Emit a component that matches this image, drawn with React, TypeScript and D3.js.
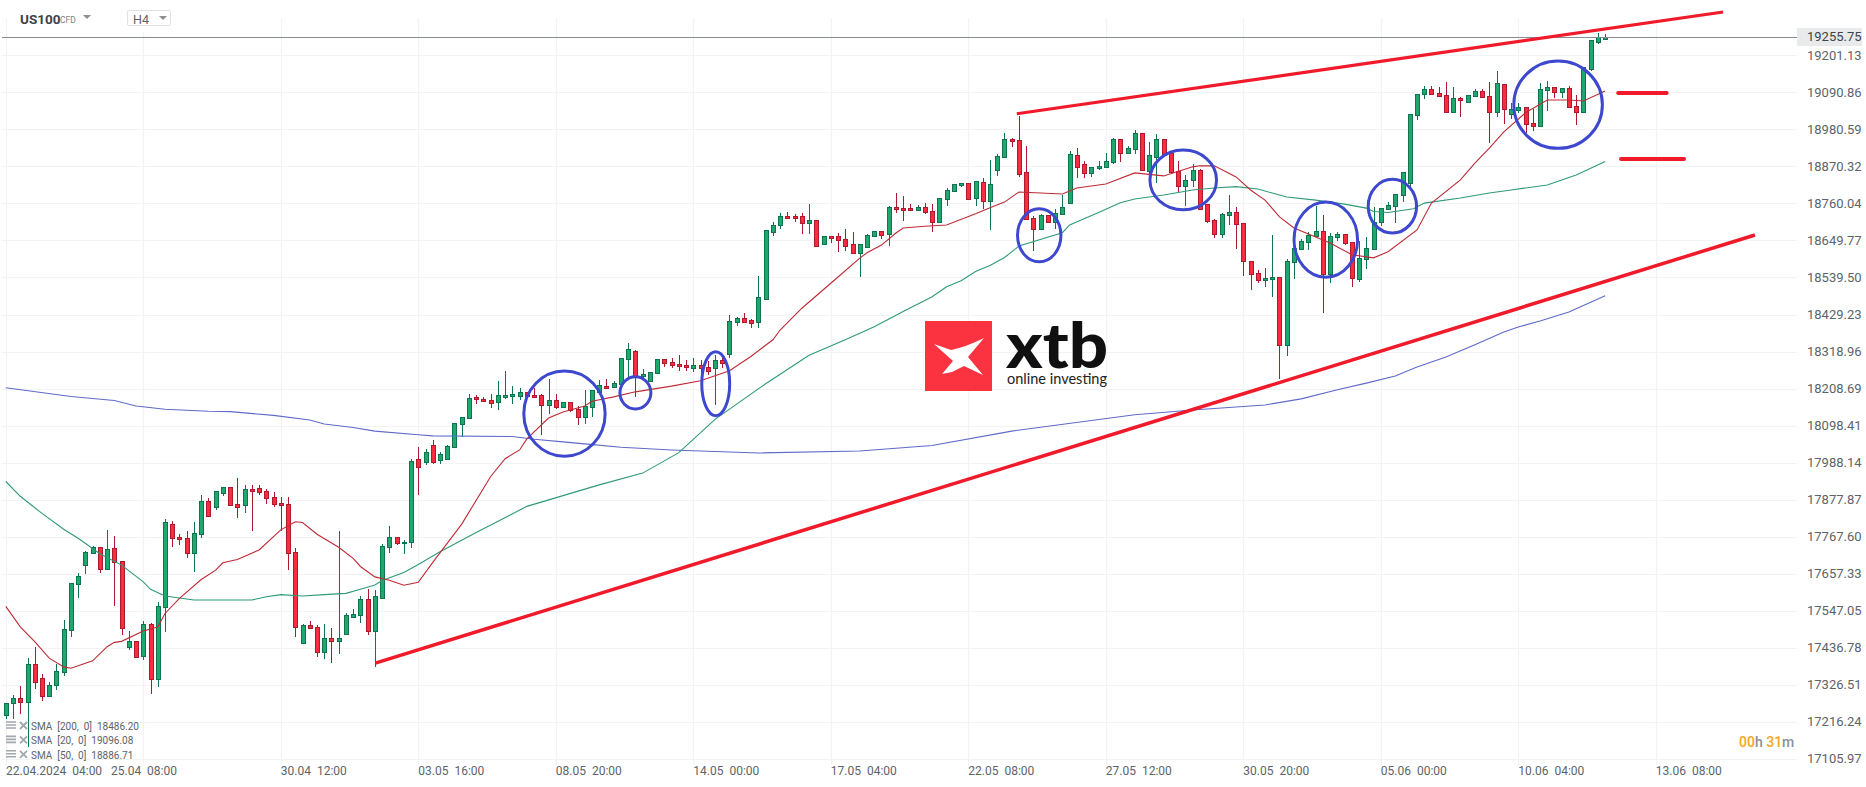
import React from "react";
import * as d3 from "d3";

const W = 1866;
const H = 787;

const priceTicks = [19201.13, 19090.86, 18980.59, 18870.32, 18760.04, 18649.77, 18539.5, 18429.23, 18318.96, 18208.69, 18098.41, 17988.14, 17877.87, 17767.6, 17657.33, 17547.05, 17436.78, 17326.51, 17216.24, 17105.97];
const lastPrice = 19255.75;

const timeTicks = ["22.04.2024  04:00", "25.04  08:00", "30.04  12:00", "03.05  16:00", "08.05  20:00", "14.05  00:00", "17.05  04:00", "22.05  08:00", "27.05  12:00", "30.05  20:00", "05.06  00:00", "10.06  04:00", "13.06  08:00"];
const barsPerTick = 19;

// candles, H4
const opens = [
  17238, 17271, 17286, 17274, 17390, 17348, 17294, 17326, 17365, 17490,
  17627, 17684, 17718, 17736, 17672, 17733, 17694, 17440, 17456, 17413,
  17509, 17344, 17559, 17804, 17768, 17765, 17719, 17777, 17873, 17857,
  17899, 17917, 17864, 17861, 17911, 17914, 17905, 17887, 17869, 17866,
  17723, 17452, 17506, 17500, 17425, 17467, 17458, 17478, 17530, 17533,
  17581, 17487, 17584, 17736, 17766, 17748, 17751, 18000, 17990, 18042,
  17995, 18000, 18035, 18102, 18122, 18185, 18179, 18176, 18168, 18185,
  18188, 18188, 18200, 18191, 18191, 18161, 18176, 18153, 18170, 18147,
  18123, 18153, 18200, 18215, 18212, 18221, 18296, 18320, 18245, 18230,
  18254, 18296, 18287, 18282, 18278, 18270, 18278, 18272, 18270, 18295,
  18312, 18406, 18418, 18412, 18408, 18476, 18676, 18695, 18722, 18722,
  18722, 18703, 18710, 18638, 18662, 18662, 18653, 18638, 18611, 18629,
  18662, 18677, 18668, 18749, 18746, 18746, 18740, 18749, 18737, 18704,
  18772, 18796, 18814, 18820, 18775, 18823, 18768, 18859, 18897, 18951,
  18948, 18853, 18716, 18685, 18725, 18706, 18728, 18760, 18903, 18877,
  18850, 18865, 18868, 18883, 18951, 18909, 18921, 18969, 18858, 18897,
  18951, 18909, 18858, 18813, 18829, 18860, 18757, 18712, 18670, 18727,
  18736, 18703, 18590, 18554, 18533, 18536, 18542, 18337, 18587, 18623,
  18644, 18662, 18677, 18551, 18659, 18668, 18644, 18536, 18596, 18623,
  18706, 18742, 18751, 18784, 18822, 19022, 19085, 19100, 19088, 19082,
  19031, 19073, 19061, 19079, 19094, 19079, 19031, 19115, 19025, 19037,
  19046, 19001, 18992, 19099, 19108, 19093, 19105, 19049, 19031, 19159,
  19240, 19251,
];
const closes = [
  17273, 17286, 17274, 17390, 17335, 17294, 17327, 17369, 17494, 17631,
  17652, 17721, 17736, 17672, 17730, 17691, 17496, 17456, 17410, 17509,
  17344, 17560, 17810, 17764, 17761, 17719, 17780, 17873, 17830, 17903,
  17917, 17861, 17857, 17911, 17904, 17901, 17883, 17865, 17863, 17719,
  17499, 17506, 17496, 17425, 17467, 17458, 17467, 17533, 17536, 17581,
  17487, 17590, 17739, 17766, 17748, 17753, 17993, 17975, 18020, 17990,
  18015, 18039, 18105, 18125, 18182, 18177, 18173, 18167, 18191, 18191,
  18194, 18200, 18188, 18185, 18161, 18176, 18155, 18170, 18144, 18123,
  18156, 18203, 18218, 18209, 18224, 18299, 18326, 18246, 18251, 18257,
  18296, 18284, 18280, 18276, 18272, 18278, 18270, 18262, 18295, 18285,
  18409, 18418, 18408, 18405, 18480, 18680, 18695, 18722, 18716, 18716,
  18703, 18710, 18634, 18662, 18656, 18650, 18634, 18611, 18638, 18665,
  18677, 18665, 18749, 18743, 18740, 18740, 18749, 18734, 18704, 18775,
  18799, 18817, 18820, 18774, 18826, 18768, 18817, 18901, 18951, 18945,
  18847, 18713, 18683, 18725, 18706, 18731, 18749, 18906, 18870, 18850,
  18868, 18871, 18886, 18951, 18909, 18924, 18969, 18861, 18903, 18951,
  18903, 18855, 18812, 18831, 18859, 18742, 18708, 18670, 18730, 18736,
  18700, 18590, 18551, 18533, 18539, 18542, 18337, 18590, 18626, 18647,
  18665, 18677, 18551, 18662, 18668, 18641, 18539, 18599, 18626, 18704,
  18745, 18754, 18787, 18855, 19025, 19087, 19100, 19085, 19079, 19031,
  19073, 19067, 19082, 19094, 19076, 19031, 19118, 19040, 19040, 19046,
  18998, 18992, 19102, 19108, 19093, 19105, 19046, 19031, 19165, 19248,
  19257, 19257,
];
const highs = [
  17273, 17295, 17323, 17405, 17439, 17360, 17334, 17390, 17519, 17631,
  17659, 17725, 17739, 17736, 17787, 17769, 17694, 17486, 17456, 17516,
  17512, 17573, 17820, 17814, 17777, 17786, 17810, 17893, 17882, 17905,
  17917, 17917, 17941, 17923, 17923, 17923, 17911, 17902, 17887, 17887,
  17735, 17509, 17518, 17506, 17509, 17497, 17784, 17539, 17551, 17590,
  17611, 17608, 17745, 17799, 17766, 17759, 18000, 18036, 18030, 18055,
  18020, 18042, 18105, 18125, 18194, 18191, 18185, 18192, 18231, 18261,
  18216, 18209, 18200, 18209, 18194, 18236, 18194, 18170, 18170, 18156,
  18203, 18203, 18234, 18237, 18230, 18299, 18344, 18323, 18266, 18257,
  18296, 18296, 18300, 18310, 18295, 18300, 18295, 18290, 18310, 18305,
  18427, 18421, 18433, 18415, 18543, 18680, 18704, 18731, 18734, 18728,
  18731, 18757, 18710, 18662, 18662, 18671, 18683, 18674, 18638, 18668,
  18677, 18677, 18752, 18791, 18782, 18758, 18755, 18761, 18758, 18775,
  18805, 18817, 18820, 18820, 18826, 18835, 18890, 18906, 18970, 18954,
  19019, 18930, 18722, 18728, 18725, 18743, 18785, 18915, 18924, 18886,
  18868, 18886, 18910, 18954, 18951, 18930, 18978, 18969, 18942, 18966,
  18951, 18909, 18885, 18846, 18876, 18863, 18757, 18715, 18733, 18784,
  18748, 18703, 18590, 18563, 18569, 18665, 18542, 18596, 18626, 18653,
  18674, 18752, 18725, 18671, 18674, 18668, 18644, 18647, 18659, 18748,
  18745, 18763, 18787, 18855, 19025, 19087, 19109, 19109, 19106, 19121,
  19106, 19076, 19082, 19100, 19100, 19121, 19154, 19115, 19058, 19058,
  19046, 19040, 19120, 19126, 19108, 19105, 19111, 19084, 19165, 19248,
  19269, 19266,
];
const lows = [
  17226, 17226, 17241, 17142, 17314, 17279, 17294, 17310, 17353, 17469,
  17585, 17656, 17718, 17659, 17669, 17561, 17475, 17430, 17408, 17400,
  17300, 17320, 17484, 17738, 17743, 17703, 17662, 17763, 17830, 17847,
  17889, 17861, 17824, 17839, 17785, 17892, 17866, 17856, 17786, 17669,
  17469, 17449, 17492, 17410, 17404, 17392, 17419, 17478, 17530, 17511,
  17475, 17380, 17581, 17718, 17742, 17715, 17735, 17892, 17980, 17985,
  17985, 17995, 18033, 18065, 18119, 18163, 18171, 18152, 18145, 18178,
  18164, 18175, 18188, 18182, 18069, 18133, 18149, 18150, 18140, 18101,
  18104, 18125, 18200, 18209, 18209, 18221, 18244, 18184, 18239, 18227,
  18251, 18272, 18270, 18262, 18262, 18258, 18255, 18250, 18160, 18270,
  18300, 18395, 18403, 18389, 18389, 18476, 18664, 18685, 18713, 18706,
  18670, 18670, 18631, 18638, 18643, 18616, 18619, 18608, 18542, 18629,
  18659, 18653, 18634, 18731, 18707, 18740, 18740, 18728, 18676, 18701,
  18753, 18796, 18808, 18771, 18753, 18744, 18681, 18842, 18897, 18929,
  18838, 18713, 18619, 18683, 18704, 18683, 18725, 18757, 18835, 18835,
  18838, 18859, 18868, 18877, 18884, 18909, 18908, 18861, 18839, 18820,
  18900, 18855, 18795, 18753, 18810, 18739, 18703, 18656, 18656, 18697,
  18623, 18544, 18501, 18523, 18511, 18482, 18238, 18307, 18535, 18623,
  18620, 18662, 18434, 18524, 18647, 18635, 18510, 18526, 18566, 18623,
  18692, 18742, 18703, 18763, 18809, 19007, 19070, 19082, 19076, 19031,
  19031, 19018, 19061, 19079, 19073, 18941, 19016, 18998, 19010, 19028,
  18971, 18977, 18989, 19034, 19073, 19075, 19043, 18993, 19028, 19153,
  19236, 19251,
];

// moving averages, [bar, price] read at the bends of each line
const sma200: [number, number][] = [[0, 18211], [9, 18185], [15, 18173], [18, 18157], [22, 18147], [28, 18141], [31, 18140], [37, 18129], [42, 18115], [44, 18103], [48, 18093], [51, 18082], [57, 18071], [59, 18068], [70, 18066], [73, 18058], [77, 18050], [80, 18044], [85, 18034], [92, 18026], [104, 18017], [118, 18023], [128, 18039], [139, 18082], [156, 18131], [164, 18145], [174, 18160], [179, 18178], [184, 18205], [188, 18225], [192, 18246], [195, 18273], [199, 18303], [203, 18339], [207, 18377], [209, 18392], [212, 18410], [216, 18437], [221, 18485]];
const sma50: [number, number][] = [[0, 17932], [2, 17888], [5, 17837], [8, 17790], [10, 17763], [13, 17717], [16, 17683], [19, 17633], [20, 17611], [22, 17591], [24, 17585], [26, 17579], [34, 17579], [36, 17589], [38, 17595], [41, 17591], [44, 17595], [47, 17599], [49, 17611], [51, 17624], [52, 17637], [55, 17661], [57, 17685], [60, 17723], [65, 17780], [72, 17858], [82, 17922], [88, 17957], [93, 18018], [98, 18117], [105, 18223], [111, 18308], [116, 18354], [120, 18393], [124, 18438], [128, 18482], [130, 18512], [132, 18530], [134, 18557], [136, 18575], [138, 18599], [140, 18633], [146, 18673], [147, 18696], [151, 18733], [154, 18762], [156, 18773], [160, 18785], [164, 18800], [167, 18806], [170, 18810], [173, 18803], [175, 18791], [177, 18779], [181, 18770], [185, 18758], [188, 18746], [189, 18736], [191, 18733], [194.5, 18744], [196, 18761], [201, 18776], [205, 18791], [208, 18800], [213, 18815], [217, 18845], [221, 18885]];
const sma20: [number, number][] = [[0, 17560], [2, 17499], [4, 17455], [6, 17406], [8, 17380], [9, 17376], [12, 17398], [14, 17440], [15, 17453], [16, 17456], [19, 17487], [21, 17499], [22, 17539], [24, 17584], [27, 17640], [29, 17668], [30, 17690], [32, 17700], [35, 17728], [38, 17788], [40, 17812], [41, 17810], [43, 17775], [46, 17736], [48, 17703], [49, 17679], [51, 17648], [53, 17638], [55, 17623], [57, 17632], [59, 17691], [63, 17805], [67, 17947], [69, 18000], [71, 18026], [72, 18059], [75, 18121], [77, 18139], [80, 18157], [81, 18171], [84, 18184], [87, 18199], [92, 18216], [96, 18232], [100, 18262], [103, 18305], [106, 18354], [107, 18383], [110, 18448], [115, 18541], [118, 18597], [119, 18613], [121, 18636], [123, 18672], [124, 18687], [127, 18692], [130, 18696], [134, 18729], [136, 18747], [138, 18764], [140, 18794], [143, 18791], [146, 18788], [148, 18806], [152, 18818], [156, 18851], [160, 18842], [164, 18869], [165, 18872], [167, 18872], [170, 18839], [172, 18800], [174, 18770], [176, 18720], [178, 18687], [183, 18642], [186, 18607], [189, 18598], [191, 18616], [195, 18681], [197, 18761], [201, 18830], [203, 18880], [205, 18925], [207, 18973], [210, 19030], [213, 19068], [216, 19068], [218, 19065], [221, 19095]];

const legendRows = ["SMA  [200,  0]  18486.20", "SMA  [20,  0]  19096.08", "SMA  [50,  0]  18886.71"];

// hand drawn annotations: [bar1, price1, bar2, price2, stroke]
const redLines: [number, number, number, number, number][] = [
  [51.06, 17391, 241.7, 18666, 3.5],
  [139.7, 19027, 237.3, 19330, 3.2],
  [222.8, 19089, 229.5, 19089, 4],
  [223.2, 18892, 231.9, 18892, 4],
];
// [bar, price, half width in bars, half height in price]
const circles: [number, number, number, number][] = [
  [77.2, 18134, 5.62, 127],
  [87.0, 18196, 2.14, 48],
  [98.1, 18223, 1.93, 95],
  [142.8, 18665, 3.0, 79],
  [162.7, 18830, 4.6, 89],
  [182.4, 18652, 4.39, 112],
  [191.6, 18752, 3.34, 80],
  [214.5, 19054, 6.12, 130],
];

const x = d3.scaleLinear().domain([0, barsPerTick]).range([5.8, 143.3]);
const y = d3.scaleLinear().domain([19201.13, 17105.97]).range([55.3, 758.9]);

const line = d3
  .line<[number, number]>()
  .x((d) => x(d[0]))
  .y((d) => y(d[1]));

const UP = "#20a86c";
const UP_DARK = "#0e7350";
const DOWN = "#fb2b40";
const DOWN_DARK = "#ad1a2e";
const GRID = "#f2f3f4";
const FONT = "Roboto, sans-serif";

const App: React.FC = () => {
  const right = 1797;
  const gridTop = 18;
  const gridBottom = 765;
  return (
    <svg
      width={W}
      height={H}
      viewBox={`0 0 ${W} ${H}`}
      style={{ position: "absolute", left: 0, top: 0, background: "#fff", fontFamily: FONT }}
    >
      {/* grid */}
      {priceTicks.map((p) => (
        <line key={p} x1={2} x2={right} y1={Math.round(y(p)) + 0.5} y2={Math.round(y(p)) + 0.5} stroke={GRID} strokeWidth={1.2} />
      ))}
      {timeTicks.map((t, i) => (
        <line key={t} x1={Math.round(x(i * barsPerTick)) + 0.5} x2={Math.round(x(i * barsPerTick)) + 0.5} y1={gridTop} y2={gridBottom} stroke={GRID} strokeWidth={1.2} />
      ))}
      <rect x={110} y={0} width={80} height={32} fill="#fff" />

      {/* logo */}
      <rect x={925} y={321} width={67} height={70} fill="#fb3340" />
      <path d="M934,344 L951,350 Q966,347 984,338 L968,357 L983,375 L964,366 L952,372 L942,374 L953,361 Z" fill="#fff" />
      <text x={1006} y={368} fontFamily="Lato, sans-serif" fontWeight={900} fontSize={62} fill="#101010" textLength={102} lengthAdjust="spacingAndGlyphs">xtb</text>
      <text x={1007} y={384} fontFamily="Lato, sans-serif" fontSize={15.5} fill="#222" textLength={100} lengthAdjust="spacingAndGlyphs">online investing</text>

      {/* candles */}
      {opens.map((o, i) => {
        const c = closes[i];
        const up = c >= o;
        const cx = Math.round(x(i));
        const top = Math.round(y(Math.max(o, c)));
        const bottom = Math.round(y(Math.min(o, c)));
        return (
          <g key={i} shapeRendering="crispEdges">
            <line x1={cx + 0.5} x2={cx + 0.5} y1={y(highs[i])} y2={y(lows[i])} stroke={up ? UP_DARK : DOWN_DARK} strokeWidth={1} />
            <rect x={cx - 1.5} y={top + 0.5} width={4} height={Math.max(bottom - top, 1)} fill={up ? UP : DOWN} stroke={up ? UP_DARK : DOWN_DARK} strokeWidth={1} />
          </g>
        );
      })}

      {/* moving averages */}
      <path d={line(sma200) ?? ""} fill="none" stroke="#5f6ac9" strokeWidth={1.1} />
      <path d={line(sma50) ?? ""} fill="none" stroke="#2f9a78" strokeWidth={1.1} />
      <path d={line(sma20) ?? ""} fill="none" stroke="#bd2b35" strokeWidth={1.1} />

      {/* last price */}
      <line x1={2} x2={right} y1={Math.round(y(lastPrice)) + 0.5} y2={Math.round(y(lastPrice)) + 0.5} stroke="#868c90" strokeWidth={1} />
      <rect x={right} y={y(lastPrice) - 9} width={65} height={18} fill="#e8eaec" />
      <text x={1807} y={y(lastPrice) + 4.5} fontSize={13} fill="#3c4449">{lastPrice.toFixed(2)}</text>

      {/* annotations */}
      {redLines.map((l, i) => (
        <line key={i} x1={x(l[0])} y1={y(l[1])} x2={x(l[2])} y2={y(l[3])} stroke="#f01a2a" strokeWidth={l[4]} strokeLinecap={i > 1 ? "round" : "butt"} />
      ))}
      {circles.map((c, i) => (
        <ellipse
          key={i}
          cx={x(c[0])}
          cy={y(c[1])}
          rx={x(c[0] + c[2]) - x(c[0])}
          ry={y(c[1] - c[3]) - y(c[1])}
          fill="none"
          stroke="#3d48cf"
          strokeWidth={3}
        />
      ))}

      {/* axes */}
      {priceTicks.map((p) => (
        <text key={p} x={1807} y={y(p) + 4.5} fontSize={13} fill="#5c6469">{p.toFixed(2)}</text>
      ))}
      {timeTicks.map((t, i) => (
        <text key={t} x={i === 0 ? 6 : i === 1 ? 111 : x(i * barsPerTick)} y={775} fontSize={12} fill="#5c6469" style={{ whiteSpace: "pre" }}>{t}</text>
      ))}

      {/* header */}
      <text x={20} y={24} fontSize={13.5} fontWeight={700} fill="#3a444c">US100</text>
      <text x={60} y={23} fontSize={8.5} fill="#7a8288">CFD</text>
      <path d="M83,15 L91,15 L87,19 Z" fill="#8a9096" />
      <rect x={127.5} y={10.5} width={43} height={15} rx={1.5} fill="#fff" stroke="#dfe2e4" />
      <text x={133} y={24} fontSize={12.5} fill="#5c6469">H4</text>
      <path d="M159,16 L167,16 L163,20 Z" fill="#8a9096" />

      {/* legend */}
      {legendRows.map((r, i) => {
        const ry = 726 + i * 14.4;
        return (
          <g key={r}>
            <path d={`M6,${ry - 4} h10 M6,${ry - 1} h10 M6,${ry + 2} h10`} stroke="#a2a8ac" strokeWidth={1.6} />
            <path d={`M20,${ry - 4} l7,7 M27,${ry - 4} l-7,7`} stroke="#a2a8ac" strokeWidth={1.8} />
            <text x={31} y={ry + 4} fontSize={10} fill="#5c6469" style={{ whiteSpace: "pre" }}>{r}</text>
          </g>
        );
      })}

      {/* timer */}
      <text x={1739} y={747} fontSize={14} fontWeight={500} fill="#f5a623">00<tspan fill="#8a9096">h</tspan> 31<tspan fill="#8a9096">m</tspan></text>
    </svg>
  );
};

export default App;
